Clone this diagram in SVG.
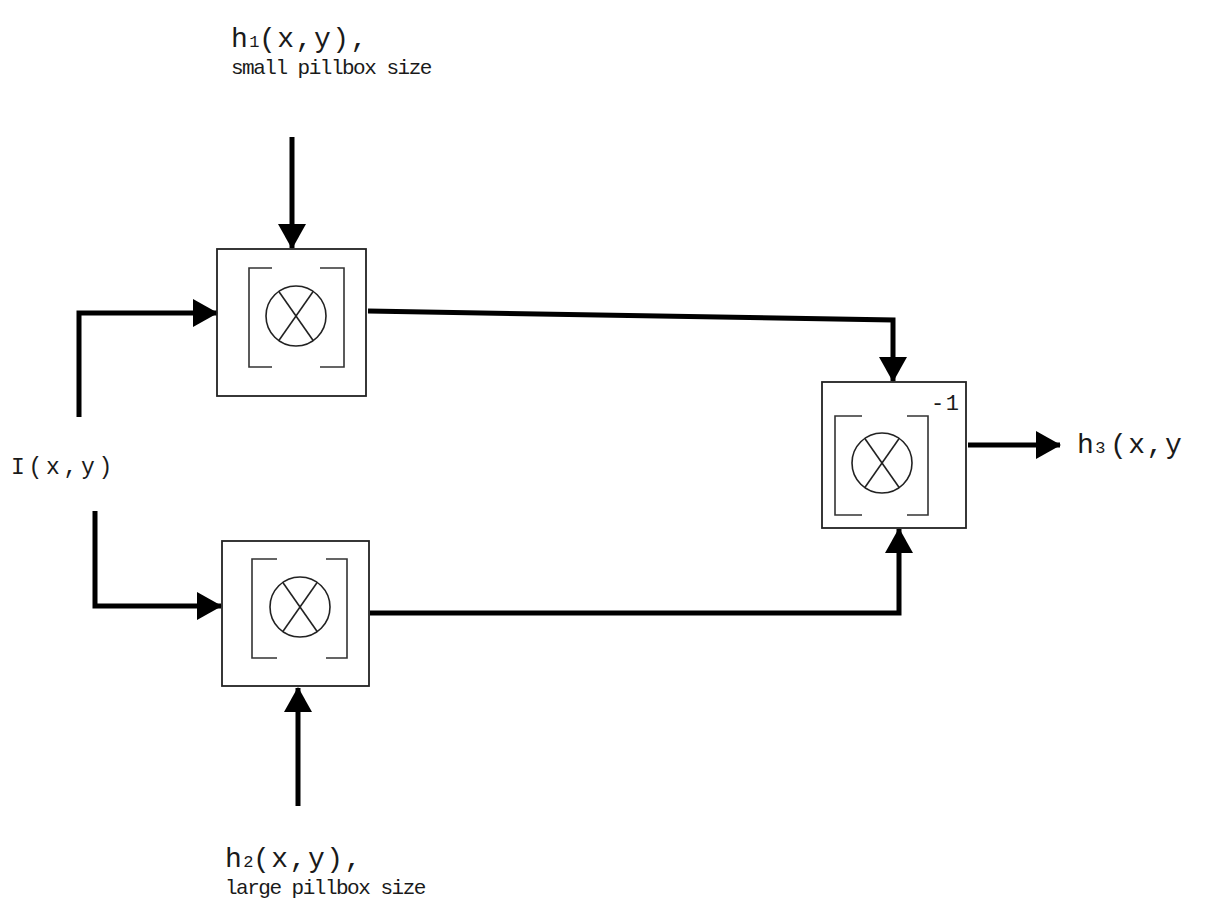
<svg xmlns="http://www.w3.org/2000/svg" width="1207" height="911" viewBox="0 0 1207 911">
  <style>
    .txt { font-family: "Liberation Mono", "Courier New", monospace; fill: #1a1a1a; }
    .big { font-size: 28px; letter-spacing: 1.5px; }
    .small { font-size: 21px; letter-spacing: -1.5px; }
    .sub { font-size: 17px; letter-spacing: 0; }
    .box { fill: none; stroke: #222; stroke-width: 1.8; }
    .brk { fill: none; stroke: #333; stroke-width: 1.6; }
    .mul { fill: none; stroke: #222; stroke-width: 1.6; }
    .wire { fill: none; stroke: #000; stroke-width: 5; stroke-linejoin: miter; }
  </style>
  <defs>
    <marker id="head" viewBox="0 0 25 28" refX="24" refY="14" markerWidth="25" markerHeight="28" markerUnits="userSpaceOnUse" orient="auto">
      <path d="M0,0 L25,14 L0,28 Z" fill="#000"/>
    </marker>
    <!-- multiplier symbol: circle with a cross -->
    <g id="times">
      <circle r="30" class="mul"/>
      <line x1="-17.5" y1="-25" x2="17.5" y2="25" class="mul"/>
      <line x1="17.5" y1="-25" x2="-17.5" y2="25" class="mul"/>
    </g>
  </defs>
  <rect width="1207" height="911" fill="#fff"/>

  <!-- connectors -->
  <g id="connectors">
    <line class="wire" x1="292" y1="137" x2="292" y2="248" marker-end="url(#head)"/>
    <polyline class="wire" points="79,417 79,313 217,313" marker-end="url(#head)"/>
    <polyline class="wire" points="95,511 95,606 221,606" marker-end="url(#head)"/>
    <line class="wire" x1="298" y1="806" x2="298" y2="688" marker-end="url(#head)"/>
    <polyline class="wire" points="368,311 893,320 893,381" marker-end="url(#head)"/>
    <polyline class="wire" points="370,613 899,613 899,529" marker-end="url(#head)"/>
    <line class="wire" x1="968" y1="445" x2="1060" y2="445" marker-end="url(#head)"/>
  </g>

  <!-- upper convolution block -->
  <g id="conv-small">
    <rect class="box" x="217" y="249" width="149" height="147"/>
    <path class="brk" d="M272,268 H249 V367 H272 M320,268 H344 V367 H320"/>
    <use href="#times" x="296" y="316"/>
  </g>

  <!-- lower convolution block -->
  <g id="conv-large">
    <rect class="box" x="222" y="541" width="147" height="145"/>
    <path class="brk" d="M277,559 H252 V658 H277 M326,559 H347 V658 H326"/>
    <use href="#times" x="300" y="607"/>
  </g>

  <!-- deconvolution block -->
  <g id="deconv">
    <rect class="box" x="822" y="382" width="144" height="146"/>
    <path class="brk" d="M862,416 H835 V515 H862 M907,416 H928 V515 H907"/>
    <use href="#times" x="882" y="463"/>
    <text class="txt" x="931" y="410" font-size="22" letter-spacing="1.5">-1</text>
  </g>

  <!-- labels -->
  <g id="label-h1">
    <text class="txt big" x="231" y="47">h<tspan class="sub">1</tspan><tspan x="259">(x,y),</tspan></text>
    <text class="txt small" x="231" y="74">small pillbox size</text>
  </g>
  <g id="label-input">
    <text class="txt" x="11" y="474" font-size="23" letter-spacing="3.7">I(x,y)</text>
  </g>
  <g id="label-h2">
    <text class="txt big" x="225" y="867">h<tspan class="sub">2</tspan><tspan x="253">(x,y),</tspan></text>
    <text class="txt small" x="225" y="894">large pillbox size</text>
  </g>
  <g id="label-h3">
    <text class="txt big" x="1077" y="453">h<tspan class="sub">3</tspan><tspan x="1110">(x,y</tspan></text>
  </g>
</svg>
